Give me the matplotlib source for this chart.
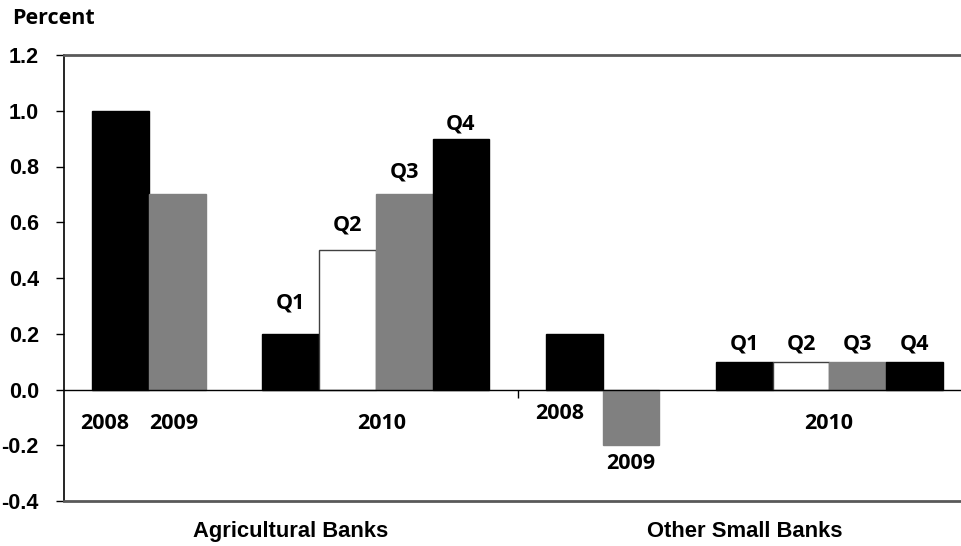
import numpy as np
import matplotlib.pyplot as plt
from matplotlib.markers import TICKDOWN

# Data
ag_years = ['2008', '2009']
ag_year_vals = [1.0, 0.7]
ag_qtrs = ['Q1', 'Q2', 'Q3', 'Q4']
ag_qtr_vals = [0.2, 0.5, 0.7, 0.9]
other_years = ['2008', '2009']
other_year_vals = [0.2, -0.2]
other_qtrs = ['Q1', 'Q2', 'Q3', 'Q4']
other_qtr_vals = [0.1, 0.1, 0.1, 0.1]
groups = ['Agricultural Banks', 'Other Small Banks']
yticks = [-0.4, -0.2, 0.0, 0.2, 0.4, 0.6, 0.8, 1.0, 1.2]

fills = ['black', '#808080', 'black', 'white', '#808080', 'black']
edges = ['black', '#808080', 'black', '#404040', '#808080', 'black']

pos = [0, 1, 3, 4, 5, 6, 8, 9, 11, 12, 13, 14]
vals = ag_year_vals + ag_qtr_vals + other_year_vals + other_qtr_vals

fig = plt.figure(figsize=(9.61, 5.46), dpi=100)
ax = fig.add_axes([64 / 961, 45 / 546, 897 / 961, 446 / 546])

ax.bar(pos, vals, width=1.0, color=fills * 2, edgecolor=edges * 2,
       linewidth=1, zorder=2)

ax.set_xlim(-1, 14.82)
ax.set_ylim(-0.4, 1.2)
ax.set_yticks(yticks)
ax.set_yticklabels(['%.1f' % v for v in yticks], fontfamily='Liberation Sans',
                   fontweight='bold', fontsize=15.5)
ax.tick_params(axis='y', direction='out', length=6, width=1, pad=12)
ax.set_xticks([])

ax.spines['right'].set_visible(False)
ax.spines['left'].set_color('black')
ax.spines['left'].set_linewidth(1.2)
for s in ['top', 'bottom']:
    ax.spines[s].set_color('#595959')
    ax.spines[s].set_linewidth(2)

ax.axhline(0, color='black', lw=1, zorder=3)
ax.plot(7, 0, marker=TICKDOWN, ms=6, color='black', clip_on=False)

lab = dict(fontfamily='Open Sans', fontweight='bold', fontsize=15.5,
           ha='center', va='center')

# year labels
ax.text(-0.29, -0.122, ag_years[0], **lab)
ax.text(0.93, -0.122, ag_years[1], **lab)
ax.text(4.6, -0.122, '2010', **lab)
ax.text(7.75, -0.086, other_years[0], **lab)
ax.text(9, -0.266, other_years[1], **lab)
ax.text(12.48, -0.122, '2010', **lab)

# quarter labels
ag_q_y = [0.31, 0.59, 0.78, 0.953]
for i, q in enumerate(ag_qtrs):
    ax.text(3 + i, ag_q_y[i], q, **lab)
for i, q in enumerate(other_qtrs):
    ax.text(11 + i, 0.162, q, **lab)

# group labels
ax.text(3, -0.51, groups[0], fontfamily='Liberation Sans', fontweight='bold',
        fontsize=15.8, ha='center', va='center')
ax.text(11, -0.51, groups[1], fontfamily='Liberation Sans', fontweight='bold',
        fontsize=15.8, ha='center', va='center')

fig.text(12 / 961, 1 - 18 / 546, 'Percent', fontfamily='Open Sans',
         fontweight='bold', fontsize=15.5, ha='left', va='center')

fig.savefig('out.png', dpi=100)
